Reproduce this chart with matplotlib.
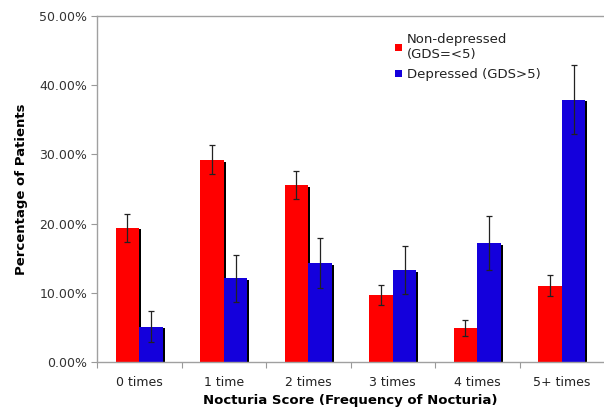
import matplotlib
matplotlib.use("Agg")
import matplotlib.pyplot as plt
import numpy as np
from matplotlib.ticker import FuncFormatter

categories = ["0 times", "1 time", "2 times", "3 times", "4 times", "5+ times"]
non_depressed = [19.4, 29.2, 25.6, 9.7, 4.9, 11.0]
non_depressed_err = [2.0, 2.1, 2.0, 1.4, 1.1, 1.5]
depressed = [5.1, 12.1, 14.3, 13.3, 17.2, 37.9]
depressed_err = [2.2, 3.4, 3.6, 3.5, 3.9, 5.0]
yticks = [0, 10, 20, 30, 40, 50]

fig = plt.figure(figsize=(6.04, 4.13), dpi=100)
ax = fig.add_axes([0.1606, 0.1235, 0.8394, 0.8378])

x = np.arange(len(categories))
w = 0.28
red = "#ff0000"
blue = "#1400dc"

# drop shadows
sx, sy = 0.022, 0.25
ax.bar(x - w/2 + sx, np.array(non_depressed) - sy, w, bottom=0, color="black", zorder=1)
ax.bar(x + w/2 + sx, np.array(depressed) - sy, w, bottom=0, color="black", zorder=1)

ax.bar(x - w/2, non_depressed, w, color=red, zorder=2, label="Non-depressed\n(GDS=<5)")
ax.bar(x + w/2, depressed, w, color=blue, zorder=2, label="Depressed (GDS>5)")
ax.errorbar(x - w/2, non_depressed, yerr=non_depressed_err, fmt="none", ecolor="#222222",
            elinewidth=0.9, capsize=2.5, capthick=0.9, zorder=3)
ax.errorbar(x + w/2, depressed, yerr=depressed_err, fmt="none", ecolor="#222222",
            elinewidth=0.9, capsize=2.5, capthick=0.9, zorder=3)

ax.set_xlim(-0.5, len(categories) - 0.5)
ax.set_ylim(0, 50)
ax.set_yticks(yticks)
ax.yaxis.set_major_formatter(FuncFormatter(lambda v, p: f"{v:.2f}%"))
ax.set_xticks(np.arange(len(categories)) - 0.5, minor=False)
ax.set_xticklabels([])
ax.set_xticks(x, minor=True)
ax.set_xticklabels(categories, minor=True)
ax.tick_params(axis="x", which="minor", length=0, pad=10, labelsize=9, labelcolor="#222222")
ax.tick_params(axis="x", which="major", length=4, color="#999999")
ax.tick_params(axis="y", length=4, color="#999999", labelsize=9, labelcolor="#333333", pad=3)

ax.spines["right"].set_visible(False)
for s in ["left", "bottom", "top"]:
    ax.spines[s].set_color("#a0a0a0")
    ax.spines[s].set_linewidth(1.0)

ax.set_xlabel("Nocturia Score (Frequency of Nocturia)", fontsize=9.5, fontweight="bold", labelpad=4)
ax.set_ylabel("Percentage of Patients", fontsize=9.5, fontweight="bold", labelpad=8)

leg = ax.legend(loc="upper left", bbox_to_anchor=(0.565, 0.985), frameon=False, fontsize=9.5,
                handlelength=0.5, handleheight=0.5, handletextpad=0.35, labelspacing=0.55)
for t in leg.get_texts():
    t.set_color("#222222")

fig.savefig("out.png", dpi=100)
